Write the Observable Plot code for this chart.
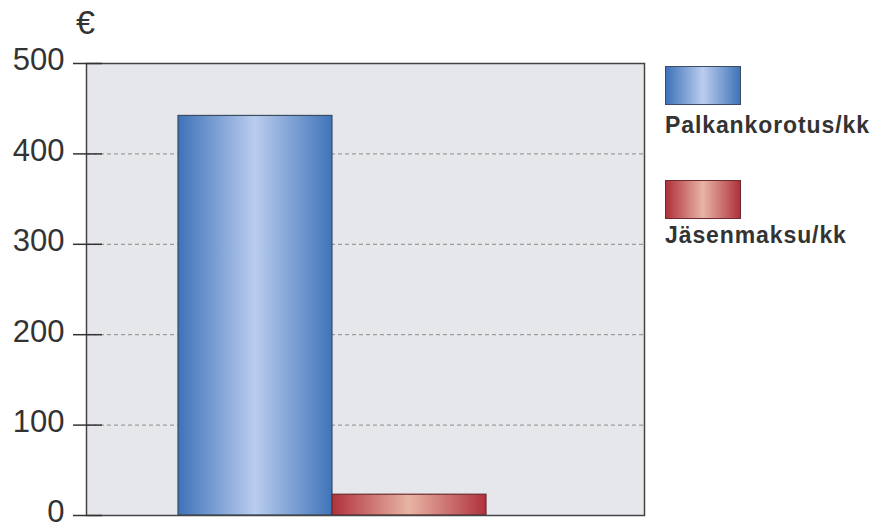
<!DOCTYPE html>
<html><head><meta charset="utf-8">
<script src="https://cdn.jsdelivr.net/npm/d3@7"></script>
<script src="https://cdn.jsdelivr.net/npm/@observablehq/plot@0.6"></script>
<style>
body{margin:0;background:#fff;font-family:"Liberation Sans",Arial,sans-serif;color:#333;}
#wrap{position:relative;width:875px;height:528px;overflow:hidden;}
.sw{position:absolute;left:665px;width:74px;height:37px;box-sizing:content-box;}
.lt{position:absolute;left:665px;font-size:23px;line-height:23px;font-weight:bold;letter-spacing:0.9px;white-space:nowrap;color:#333;}
#unit{position:absolute;left:76px;top:5px;font-size:34px;line-height:34px;color:#333;}
</style></head><body><div id="wrap"></div>
<script>
const categories = ["Palkankorotus/kk", "Jäsenmaksu/kk"];
const values = [442, 23];
const yTicks = [0, 100, 200, 300, 400, 500];
const unitLabel = "€";

const data = categories.map((c, i) => ({category: c, value: values[i]}));

const chart = Plot.plot({
  width: 875, height: 528,
  marginTop: 63, marginBottom: 13, marginLeft: 86, marginRight: 231,
  style: {fontFamily: "Liberation Sans, Arial, sans-serif", color: "#333", background: "transparent", overflow: "visible"},
  x: {domain: categories, paddingInner: 0, paddingOuter: 0.81, align: 0.368, axis: null},
  y: {domain: [0, 500], ticks: yTicks, label: null},
  marks: [
    Plot.frame({fill: "#e6e7eb", stroke: "none"}),
    Plot.gridY(yTicks.filter(t => t > 0 && t < 500), {stroke: "#8a8a8a", strokeOpacity: 1, strokeDasharray: "4,3"}),
    Plot.barY(data, {filter: d => d.category === categories[0], x: "category", y: "value", fill: "url(#gBlue)", stroke: "#3b4c66", strokeWidth: 1.2}),
    Plot.barY(data, {filter: d => d.category === categories[1], x: "category", y: "value", fill: "url(#gRed)", stroke: "#6e2a30", strokeWidth: 1.2}),
    Plot.frame({stroke: "#444", strokeWidth: 1.5}),
    Plot.axisY(yTicks, {tickSize: 29, dx: 16, fill: "none", stroke: "#333", strokeWidth: 1.5, label: null}),
    Plot.axisY(yTicks, {tickSize: 0, tickPadding: 22, fontSize: 31, fill: "#333", dy: -3, label: null})
  ]
});

chart.insertAdjacentHTML("afterbegin", `<defs>
<linearGradient id="gBlue" x1="0" x2="1" y1="0" y2="0">
<stop offset="0" stop-color="#3e72b8"/><stop offset="0.5" stop-color="#bacdee"/><stop offset="1" stop-color="#3f74b9"/>
</linearGradient>
<linearGradient id="gRed" x1="0" x2="1" y1="0" y2="0">
<stop offset="0" stop-color="#b0313c"/><stop offset="0.5" stop-color="#e7b5a4"/><stop offset="1" stop-color="#b0313c"/>
</linearGradient></defs>`);

const wrap = document.getElementById("wrap");
wrap.appendChild(chart);
chart.style.position = "absolute"; chart.style.left = "0"; chart.style.top = "0";

const unit = document.createElement("div");
unit.id = "unit"; unit.textContent = unitLabel;
wrap.appendChild(unit);

const legendStyles = [
  {top: 66, textTop: 114, bg: "linear-gradient(to right,#3e72b8,#bacdee,#3f74b9)", border: "#3b4c66"},
  {top: 180, textTop: 224, bg: "linear-gradient(to right,#b0313c,#e7b5a4,#b0313c)", border: "#6e2a30"}
];
categories.forEach((c, i) => {
  const s = legendStyles[i];
  const sw = document.createElement("div");
  sw.className = "sw";
  sw.style.top = s.top + "px";
  sw.style.background = s.bg;
  sw.style.border = "1px solid " + s.border;
  wrap.appendChild(sw);
  const t = document.createElement("div");
  t.className = "lt";
  t.style.top = s.textTop + "px";
  t.textContent = c;
  wrap.appendChild(t);
});
</script></body></html>
